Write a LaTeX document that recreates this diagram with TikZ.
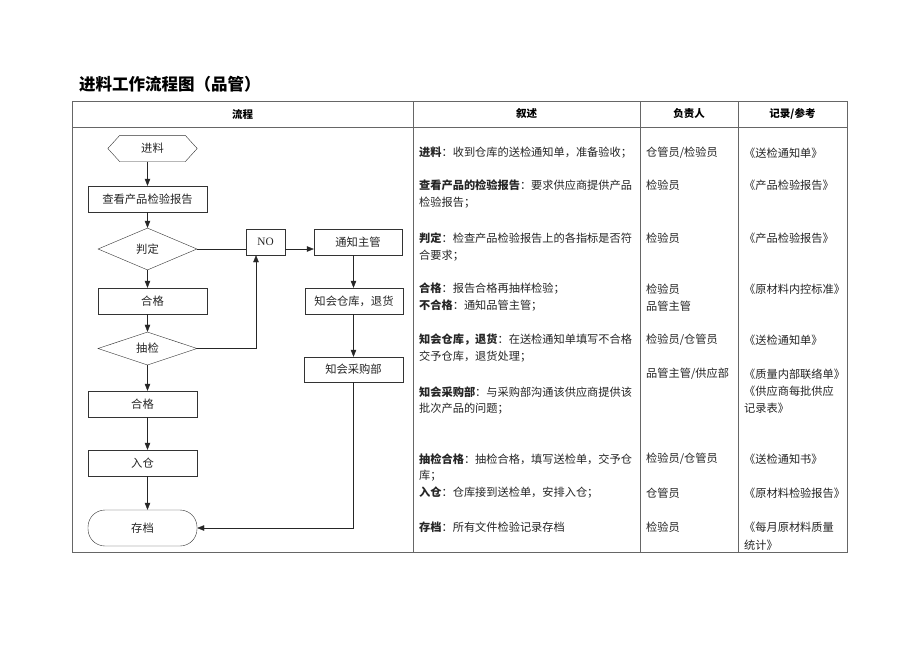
\documentclass[tikz,border=0pt]{standalone}
\usepackage{fontspec}
\setmainfont{Liberation Serif}
\newfontfamily\cjk{Noto Sans CJK SC}
\usetikzlibrary{shapes.geometric}
\usetikzlibrary{arrows.meta}

\tikzset{
  flowbox/.style={draw=black!80, thin, minimum height=26pt, inner sep=0pt, text=black!85, font=\cjk\fontsize{11.3}{13}\selectfont},
  decide/.style={diamond, draw=black!80, thin, inner sep=0pt, text=black!85, font=\cjk\fontsize{11.3}{13}\selectfont},
  flowline/.style={draw=black!85, thin},
  flowarrow/.style={flowline, -{Triangle[length=7pt,width=5.5pt]}},
  tableline/.style={draw=black!60, line width=0.9pt},
  headtext/.style={inner sep=0pt, font=\cjk\bfseries\fontsize{10.5}{12}\selectfont},
  desc/.style={anchor=west, inner sep=0pt, text=black!85, font=\cjk\fontsize{11.2}{14}\selectfont},
}

\begin{document}
\begin{tikzpicture}[x=1pt,y=-1pt]
\useasboundingbox[fill=white] (0,0) rectangle (920,651);

% title
\node[anchor=west,inner sep=0pt,font=\cjk\bfseries\fontsize{16.5}{18}\selectfont] (title) at (79,84) {进料工作流程图（品管）};

% table
\draw[tableline] (72,101) rectangle (847,552);
\draw[tableline] (72,127) -- (847,127);
\draw[tableline] (413,101) -- (413,552);
\draw[tableline] (640,101) -- (640,552);
\draw[tableline] (738,101) -- (738,552);
\node[headtext] (h1) at (242.5,114) {流程};
\node[headtext] (h2) at (526.5,114) {叙述};
\node[headtext] (h3) at (689,114) {负责人};
\node[headtext] (h4) at (792.5,114) {记录/参考};

% flow chart
\node[flowbox,draw=none,minimum width=89pt] (jl) at (152.5,148.5) {进料};
\draw[draw=black!80,thin] (jl.west) -- ([xshift=12pt]jl.north west) -- ([xshift=-12pt]jl.north east)
  -- (jl.east) -- ([xshift=-12pt]jl.south east) -- ([xshift=12pt]jl.south west) -- cycle;
\node[flowbox,minimum width=119pt] (ck) at (147.5,199) {查看产品检验报告};
\node[decide,minimum width=99pt,minimum height=42pt] (pd) at (147.5,249) {判定};
\node[flowbox,minimum width=39pt,font=\fontsize{11.3}{13}\selectfont] (no) at (265.5,242) {NO};
\node[flowbox,minimum width=88pt] (tz) at (358,242) {通知主管};
\node[flowbox,minimum width=109pt] (hg1) at (152.5,301) {合格};
\node[flowbox,minimum width=98pt] (zhc) at (354,301) {知会仓库，退货};
\node[decide,minimum width=99pt,minimum height=33pt] (cj) at (147.5,348.5) {抽检};
\node[flowbox,minimum width=99pt,minimum height=25pt] (zcg) at (353.5,369.5) {知会采购部};
\node[flowbox,minimum width=109pt] (hg2) at (142.5,404) {合格};
\node[flowbox,minimum width=109pt] (rc) at (142.5,463) {入仓};
\node[flowbox,minimum width=109pt,minimum height=36pt,rounded corners=17pt] (cd) at (142.5,528) {存档};

\draw[flowarrow] (jl.south -| pd.center) -- (ck.north -| pd.center);
\draw[flowarrow] (ck.south -| pd.center) -- (pd.north);
\draw[flowarrow] (pd.south) -- (hg1.north -| pd.south);
\draw[flowarrow] (hg1.south -| cj.north) -- (cj.north);
\draw[flowarrow] (cj.south) -- (hg2.north -| cj.south);
\draw[flowarrow] (hg2.south -| cj.south) -- (rc.north -| cj.south);
\draw[flowarrow] (rc.south -| cj.south) -- (cd.north -| cj.south);
\draw[flowline] (pd.east) -- (pd.east -| no.west);
\draw[flowarrow] (pd.east -| no.east) -- (pd.east -| tz.west);
\draw[flowarrow] (cj.east) -| ([xshift=-9.5pt]no.south);
\draw[flowarrow] (tz.south -| zcg.center) -- (zhc.north -| zcg.center);
\draw[flowarrow] (zhc.south -| zcg.center) -- (zcg.north);
\draw[flowarrow] (zcg.south) |- (cd.east);

% description
\node[desc] (d1) at (419,153) {\textbf{进料}：收到仓库的送检通知单，准备验收；};
\node[desc] (d2) at (419,185) {\textbf{查看产品的检验报告}：要求供应商提供产品};
\node[desc] (d2b) at (419,203) {检验报告；};
\node[desc] (d3) at (419,238) {\textbf{判定}：检查产品检验报告上的各指标是否符};
\node[desc] (d3b) at (419,256) {合要求；};
\node[desc] (d4) at (419,289) {\textbf{合格}：报告合格再抽样检验；};
\node[desc] (d4b) at (419,306) {\textbf{不合格}：通知品管主管；};
\node[desc] (d5) at (419,340) {\textbf{知会仓库，退货}：在送检通知单填写不合格};
\node[desc] (d5b) at (419,357) {交予仓库，退货处理；};
\node[desc] (d6) at (419,392) {\textbf{知会采购部}：与采购部沟通该供应商提供该};
\node[desc] (d6b) at (419,409) {批次产品的问题；};
\node[desc] (d7) at (419,459) {\textbf{抽检合格}：抽检合格，填写送检单，交予仓};
\node[desc] (d7b) at (419,476) {库；};
\node[desc] (d8) at (419,493) {\textbf{入仓}：仓库接到送检单，安排入仓；};
\node[desc] (d9) at (419,527) {\textbf{存档}：所有文件检验记录存档};

% person in charge
\node[desc] (p1) at (646,153) {仓管员/检验员};
\node[desc] (p2) at (646,185) {检验员};
\node[desc] (p3) at (646,238) {检验员};
\node[desc] (p4) at (646,289) {检验员};
\node[desc] (p4b) at (646,306) {品管主管};
\node[desc] (p5) at (646,340) {检验员/仓管员};
\node[desc] (p6) at (646,374) {品管主管/供应部};
\node[desc] (p7) at (646,459) {检验员/仓管员};
\node[desc] (p8) at (646,493) {仓管员};
\node[desc] (p9) at (646,527) {检验员};

% records
\node[desc] (r1) at (744,153) {《送检通知单》};
\node[desc] (r2) at (744,185) {《产品检验报告》};
\node[desc] (r3) at (744,238) {《产品检验报告》};
\node[desc] (r4) at (744,289) {《原材料内控标准》};
\node[desc] (r5) at (744,340) {《送检通知单》};
\node[desc] (r6) at (744,374) {《质量内部联络单》};
\node[desc] (r6b) at (744,391) {《供应商每批供应};
\node[desc] (r6c) at (744,408) {记录表》};
\node[desc] (r7) at (744,459) {《送检通知书》};
\node[desc] (r8) at (744,493) {《原材料检验报告》};
\node[desc] (r9) at (744,527) {《每月原材料质量};
\node[desc] (r9b) at (744,545) {统计》};

\end{tikzpicture}
\end{document}
